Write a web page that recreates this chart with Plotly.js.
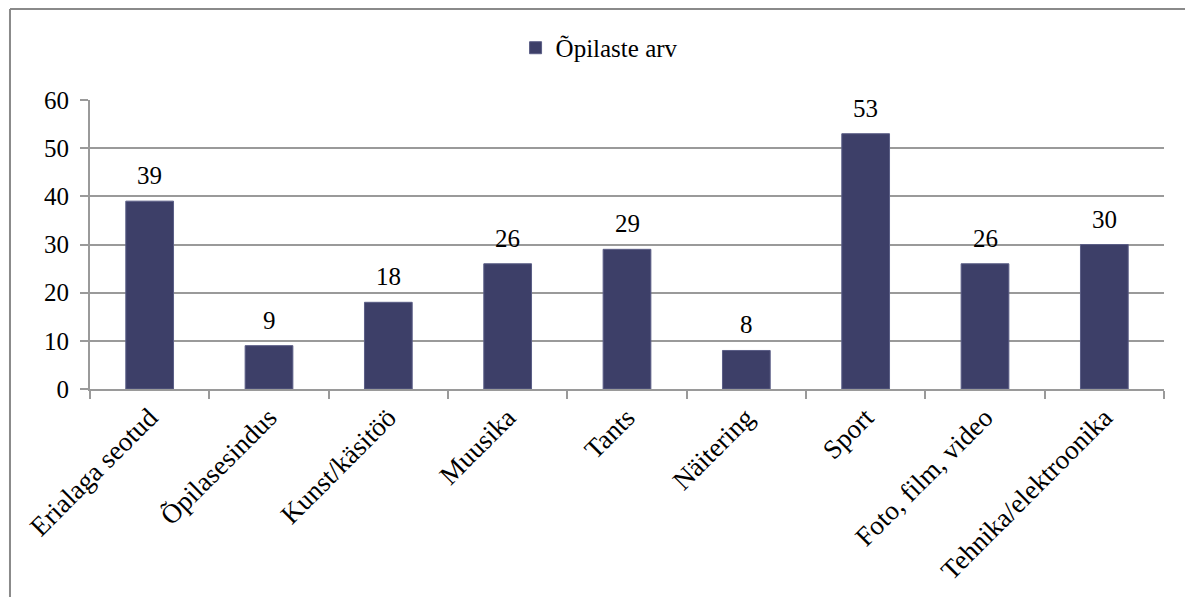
<!DOCTYPE html>
<html>
<head>
<meta charset="utf-8">
<script src="https://cdn.plot.ly/plotly-3.0.1.min.js"></script>
<style>
html,body{margin:0;padding:0;background:#fff;}
#chart{width:1185px;height:597px;}
</style>
</head>
<body>
<div id="chart"></div>
<script>
const categories = ["Erialaga seotud", "Õpilasesindus", "Kunst/käsitöö", "Muusika", "Tants", "Näitering", "Sport", "Foto, film, video", "Tehnika/elektroonika"];
const values = [39, 9, 18, 26, 29, 8, 53, 26, 30];
const seriesName = "Õpilaste arv";
const yTicks = [0, 10, 20, 30, 40, 50, 60];

const font = {family: "Liberation Serif", size: 25, color: "#000"};
const gridColor = "#9a9a9a";

const trace = {
  type: "bar",
  x: categories,
  y: values,
  name: seriesName,
  marker: {color: "#3d3f68", line: {color: "#5b5e86", width: 1}},
  width: 0.4,
  showlegend: true,
  hoverinfo: "x+y"
};

const annotations = categories.map((c, i) => ({
  x: c, y: values[i], xref: "x", yref: "y",
  text: String(values[i]), showarrow: false,
  yanchor: "bottom", yshift: 10, font: font
}));

const layout = {
  width: 1185, height: 597,
  margin: {l: 90, r: 21, t: 100, b: 208},
  paper_bgcolor: "#fff", plot_bgcolor: "#fff",
  font: font,
  showlegend: true,
  legend: {orientation: "h", x: 0.474, xanchor: "center", y: 1.18, yanchor: "middle", font: font, itemwidth: 30},
  bargap: 0.6,
  xaxis: {
    type: "category",
    tickangle: -45,
    showline: true, linecolor: gridColor, linewidth: 2,
    ticks: "outside", tickson: "boundaries", ticklen: 8, tickcolor: gridColor, tickwidth: 2,
    showgrid: false,
    tickfont: {family: "Liberation Serif", size: 27, color: "#000"},
    fixedrange: true
  },
  yaxis: {
    range: [0, 60],
    tickvals: yTicks,
    showline: true, linecolor: gridColor, linewidth: 2,
    ticks: "outside", ticklen: 8, tickcolor: gridColor, tickwidth: 2,
    showgrid: true, gridcolor: gridColor, gridwidth: 2,
    zeroline: false,
    tickfont: font,
    ticklabelstandoff: 6,
    fixedrange: true
  },
  annotations: annotations,
  shapes: [
    {type: "line", xref: "paper", yref: "paper", x0: -0.0745, x1: -0.0745, y0: -1, y1: 1.3149, line: {color: "#8a8a8a", width: 2}},
    {type: "line", xref: "paper", yref: "paper", x0: -0.0745, x1: 1.2, y0: 1.3149, y1: 1.3149, line: {color: "#8a8a8a", width: 2}}
  ]
};

Plotly.newPlot("chart", [trace], layout, {displayModeBar: false, staticPlot: true});
</script>
</body>
</html>
